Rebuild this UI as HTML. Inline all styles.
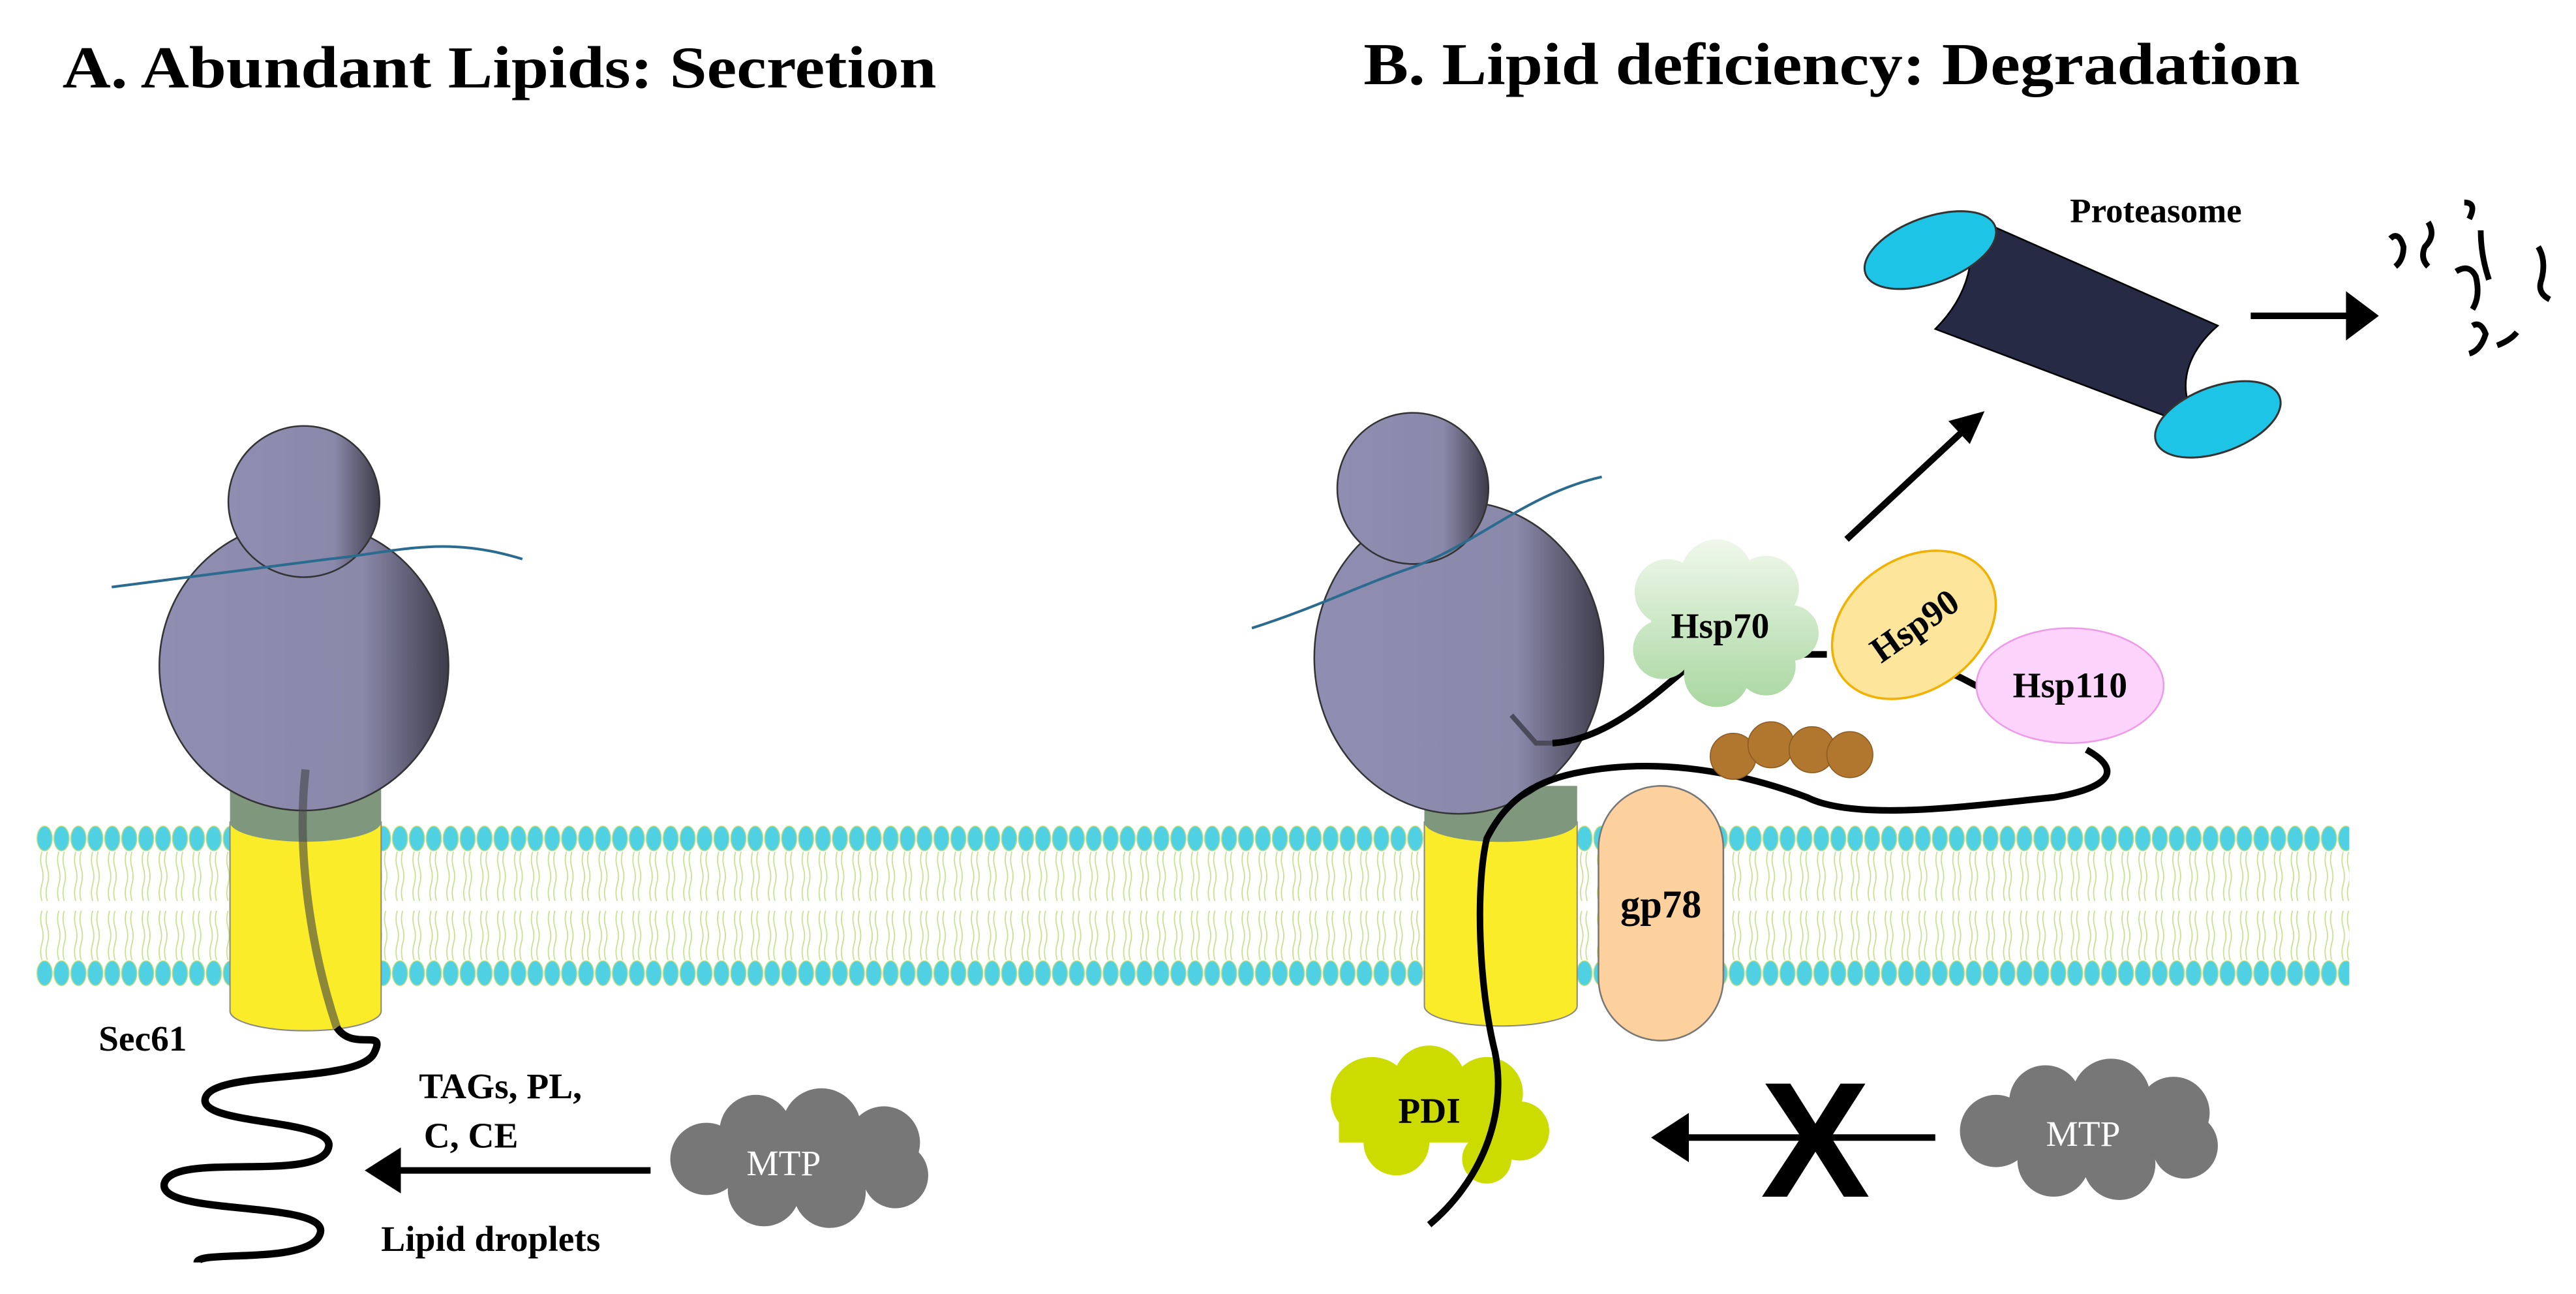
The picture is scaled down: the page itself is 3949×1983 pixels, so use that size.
<!DOCTYPE html>
<html><head><meta charset="utf-8"><style>html,body{margin:0;padding:0;background:#fff}svg{display:block}</style></head><body>
<svg width="3949" height="1983" viewBox="0 0 1568 787" xmlns="http://www.w3.org/2000/svg" font-family="Liberation Serif, serif">
<defs>
<linearGradient id="rib" x1="0" x2="1" y1="0" y2="0"><stop offset="0" stop-color="#8f8db1"/><stop offset="0.7" stop-color="#8b89aa"/><stop offset="1" stop-color="#3d3c4a"/></linearGradient>
<linearGradient id="hsp70" gradientUnits="userSpaceOnUse" x1="0" x2="0" y1="330" y2="430"><stop offset="0" stop-color="#eef7ea"/><stop offset="1" stop-color="#a9d7a0"/></linearGradient>
<pattern id="mem" x="22" y="0" width="10.3" height="787" patternUnits="userSpaceOnUse">
<ellipse cx="5.15" cy="510" rx="4.6" ry="7.5" fill="#4fd0e3" stroke="#b9dc7a" stroke-width="0.6"/>
<ellipse cx="5.15" cy="592" rx="4.6" ry="7.5" fill="#4fd0e3" stroke="#b9dc7a" stroke-width="0.6"/>
<path d="M3.5 518 q-1.5 5 0 10 q1.5 5 0 10 q-1.5 5 0 10 M6.8 518 q-1.5 5 0 10 q1.5 5 0 10 q-1.5 5 0 10 M3.5 584 q-1.5 -5 0 -10 q1.5 -5 0 -10 q-1.5 -5 0 -10 M6.8 584 q-1.5 -5 0 -10 q1.5 -5 0 -10 q-1.5 -5 0 -10" fill="none" stroke="#c6e08e" stroke-width="0.7"/>
</pattern>
</defs>
<rect width="1568" height="787" fill="#fff"/>
<text x="38" y="53" font-size="36" font-weight="bold" textLength="532" lengthAdjust="spacingAndGlyphs">A. Abundant Lipids: Secretion</text>
<text x="830" y="51" font-size="36" font-weight="bold" textLength="570" lengthAdjust="spacingAndGlyphs">B. Lipid deficiency: Degradation</text>
<rect x="22" y="500" width="1408" height="102" fill="url(#mem)"/>

<!-- Left -->
<path d="M140 500 L140 615 A46 12 0 0 0 232 615 L232 500 Z" fill="#fbec2a" stroke="#888" stroke-width="0.8"/>
<path d="M140 480 L140 500 A46 12 0 0 0 232 500 L232 480 Z" fill="#7f977d"/>
<circle cx="185" cy="405" r="88" fill="url(#rib)" stroke="#333" stroke-width="1"/>
<circle cx="185" cy="305" r="46" fill="url(#rib)" stroke="#333" stroke-width="1"/>
<path d="M68 357 C120 350 160 345 200 340 C240 336 270 325 318 340" fill="none" stroke="#2a6b8f" stroke-width="1.6"/>
<path d="M186 468 C180 520 190 580 205 625" fill="none" stroke="#444" stroke-opacity="0.6" stroke-width="5"/>
<path d="M205 625 C215 640 235 625 228 640 C220 660 130 650 125 668 C120 685 205 680 200 698 C195 720 105 700 100 720 C96 740 200 730 195 750 C190 770 120 760 120 768" fill="none" stroke="#000" stroke-width="4.5"/>
<text x="60" y="639" font-size="22" font-weight="bold">Sec61</text>
<text x="255" y="668" font-size="22" font-weight="bold">TAGs, PL,</text>
<text x="258" y="698" font-size="22" font-weight="bold">C, CE</text>
<text x="232" y="761" font-size="22" font-weight="bold">Lipid droplets</text>
<line x1="396" y1="712" x2="240" y2="712" stroke="#000" stroke-width="4"/>
<polygon points="222,712 244,698 244,726" fill="#000"/>
<g fill="#777">
<circle cx="430" cy="705" r="22"/><circle cx="460" cy="688" r="22"/><circle cx="500" cy="686" r="24"/><circle cx="538" cy="695" r="22"/><circle cx="545" cy="715" r="20"/><circle cx="505" cy="725" r="22"/><circle cx="465" cy="724" r="22"/><rect x="430" y="690" width="110" height="30"/>
</g>
<text x="477" y="715" font-size="22" fill="#fff" text-anchor="middle">MTP</text>

<!-- Right -->
<path d="M867 500 L867 612 A46 12 0 0 0 960 612 L960 500 Z" fill="#fbec2a" stroke="#888" stroke-width="0.8"/>
<path d="M867 478 L867 500 A46 12 0 0 0 960 500 L960 478 Z" fill="#7f977d"/>
<ellipse cx="888" cy="400" rx="88" ry="95" fill="url(#rib)" stroke="#333" stroke-width="1"/>
<circle cx="860" cy="297" r="46" fill="url(#rib)" stroke="#333" stroke-width="1"/>
<path d="M762 382 C800 370 830 355 860 345 C900 330 930 300 975 290" fill="none" stroke="#2a6b8f" stroke-width="1.6"/>
<path d="M920 435 L935 452 L945 452" fill="none" stroke="#4a4a5a" stroke-width="3"/>
<path d="M945 452 C980 450 1010 420 1040 395" fill="none" stroke="#000" stroke-width="4"/>
<path d="M1085 398 L1112 398 M1180 408 C1195 410 1200 418 1212 420 M1270 456 C1295 470 1280 480 1250 485 C1200 490 1130 500 1100 485 C1060 470 1010 460 960 470 C930 476 915 490 905 510 C898 540 900 600 910 640 C918 680 900 720 870 745" fill="none" stroke="#000" stroke-width="4"/>
<rect x="973" y="478" width="76" height="155" rx="38" fill="#fdd19d" stroke="#777" stroke-width="1"/>
<text x="1011" y="558" font-size="24" font-weight="bold" text-anchor="middle">gp78</text>
<g fill="#ccdc00">
<circle cx="835" cy="668" r="25"/><circle cx="870" cy="658" r="22"/><circle cx="905" cy="665" r="22"/><circle cx="925" cy="688" r="18"/><circle cx="905" cy="705" r="15"/><circle cx="850" cy="695" r="20"/><rect x="815" y="660" width="110" height="35"/>
</g>
<text x="870" y="683" font-size="22" font-weight="bold" text-anchor="middle">PDI</text>
<path d="M910 640 C918 680 900 720 870 745" fill="none" stroke="#000" stroke-width="4"/>
<g fill="#b2772f" stroke="#8a5a20" stroke-width="0.6">
<circle cx="1055" cy="460" r="14"/><circle cx="1078" cy="453" r="14"/><circle cx="1103" cy="456" r="14"/><circle cx="1126" cy="459" r="14"/>
</g>
<g fill="url(#hsp70)">
<circle cx="1015" cy="360" r="20"/><circle cx="1045" cy="350" r="22"/><circle cx="1075" cy="358" r="20"/><circle cx="1090" cy="385" r="17"/><circle cx="1075" cy="405" r="18"/><circle cx="1045" cy="410" r="20"/><circle cx="1012" cy="395" r="18"/><rect x="1005" y="360" width="85" height="40"/>
</g>
<text x="1047" y="388" font-size="22" font-weight="bold" text-anchor="middle">Hsp70</text>
<ellipse cx="1165" cy="380" rx="54" ry="40" transform="rotate(-35 1165 380)" fill="#fde69b" stroke="#f2b100" stroke-width="1.4"/>
<text x="1165" y="388" font-size="22" font-weight="bold" text-anchor="middle" transform="rotate(-35 1165 380)">Hsp90</text>
<ellipse cx="1260" cy="417" rx="57" ry="35" fill="#fcd4fb" stroke="#ee9ae8" stroke-width="1"/>
<text x="1260" y="424" font-size="22" font-weight="bold" text-anchor="middle">Hsp110</text>
<line x1="1124" y1="328" x2="1195" y2="262" stroke="#000" stroke-width="4"/>
<polygon points="1208,250 1186,256 1199,270" fill="#000"/>
<line x1="1178" y1="692" x2="1025" y2="692" stroke="#000" stroke-width="4"/>
<polygon points="1005,692 1028,677 1028,707" fill="#000"/>
<text x="1105" y="728" font-size="100" font-weight="bold" font-family="Liberation Sans, sans-serif" text-anchor="middle">X</text>
<g fill="#777">
<circle cx="1215" cy="688" r="22"/><circle cx="1245" cy="670" r="22"/><circle cx="1285" cy="668" r="24"/><circle cx="1323" cy="677" r="22"/><circle cx="1330" cy="697" r="20"/><circle cx="1290" cy="708" r="22"/><circle cx="1250" cy="706" r="22"/><rect x="1215" y="672" width="110" height="30"/>
</g>
<text x="1268" y="697" font-size="22" fill="#fff" text-anchor="middle">MTP</text>

<!-- Proteasome -->
<path d="M1196 130 L1350 198 C1330 215 1322 240 1342 262 L1178 200 C1198 180 1205 155 1196 130 Z" fill="#262a44" stroke="#000" stroke-width="1"/>
<ellipse cx="1175" cy="152" rx="42" ry="20" transform="rotate(-20 1175 152)" fill="#1ec4e6" stroke="#333" stroke-width="1.2"/>
<ellipse cx="1350" cy="255" rx="40" ry="20" transform="rotate(-20 1350 255)" fill="#1ec4e6" stroke="#333" stroke-width="1.2"/>
<text x="1260" y="135" font-size="21" font-weight="bold">Proteasome</text>
<line x1="1370" y1="192" x2="1430" y2="192" stroke="#000" stroke-width="4"/>
<polygon points="1448,192 1428,177 1428,207" fill="#000"/>
<g fill="none" stroke="#000" stroke-width="3.5">
<path d="M1455 145 q5 -5 8 5 q0 8 -5 12"/>
<path d="M1478 135 q5 8 -2 15 q-3 7 2 12"/>
<path d="M1500 123 q8 0 3 10"/>
<path d="M1510 140 q0 15 5 30"/>
<path d="M1495 165 q8 -5 12 3 q3 12 -2 20"/>
<path d="M1545 150 q5 8 2 20 q-3 8 5 12"/>
<path d="M1505 198 q5 -3 8 5 q-3 10 -10 12"/>
<path d="M1520 210 q8 -3 12 -8"/>
</g>
</svg>
</body></html>
